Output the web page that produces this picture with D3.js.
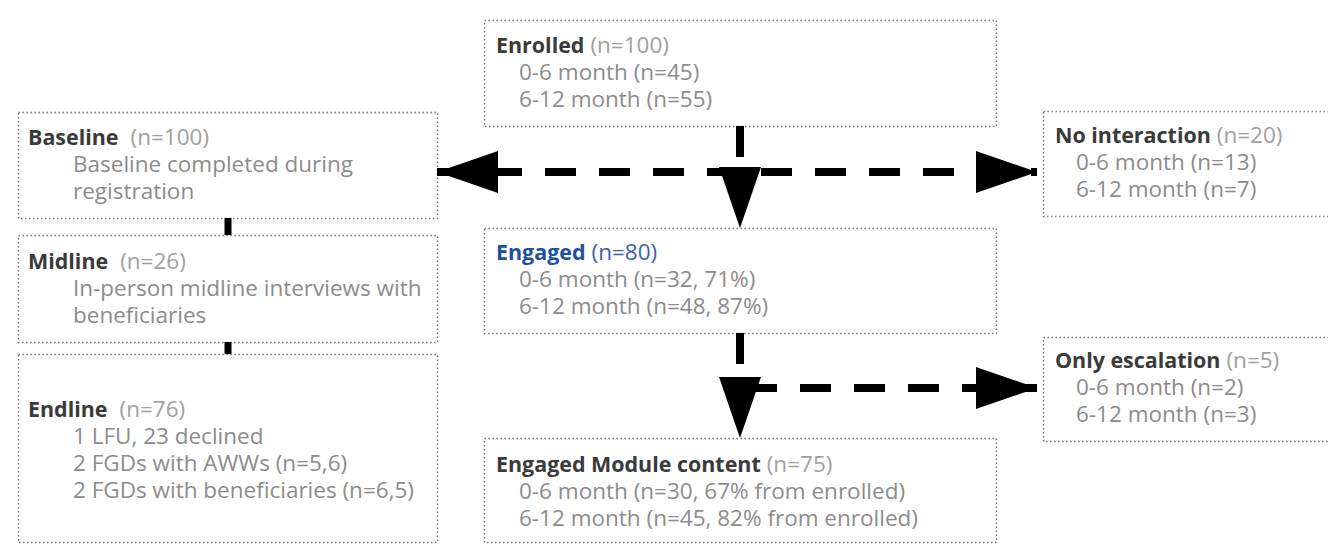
<!DOCTYPE html>
<html><head><meta charset="utf-8">
<script src="https://cdn.jsdelivr.net/npm/d3@7"></script>
<style>body{margin:0;background:#fff;overflow:hidden}</style>
</head><body><svg id="c" width="1328" height="545"></svg>
<script>
// ---- data ----
const nodeIds = ["enrolled","baseline","midline","endline","nointer","engaged","escal","module"];
const nodeTitles = ["Enrolled","Baseline","Midline","Endline","No interaction","Engaged","Only escalation","Engaged Module content"];
const nodeCounts = ["(n=100)","(n=100)","(n=26)","(n=76)","(n=20)","(n=80)","(n=5)","(n=75)"];
const nodeLines = [
  ["0-6 month (n=45)","6-12 month (n=55)"],
  ["Baseline completed during","registration"],
  ["In-person midline interviews with","beneficiaries"],
  ["1 LFU, 23 declined","2 FGDs with AWWs (n=5,6)","2 FGDs with beneficiaries (n=6,5)"],
  ["0-6 month (n=13)","6-12 month (n=7)"],
  ["0-6 month (n=32, 71%)","6-12 month (n=48, 87%)"],
  ["0-6 month (n=2)","6-12 month (n=3)"],
  ["0-6 month (n=30, 67% from enrolled)","6-12 month (n=45, 82% from enrolled)"]
];
const arrowLinks = [["enrolled","baseline"],["enrolled","nointer"],["enrolled","engaged"],["engaged","module"],["engaged","escal"]];
const plainLinks = [["baseline","midline"],["midline","endline"]];

// ---- layout (positions, sizes, styles) ----
const layout = {
  enrolled:{x:484,y:20,w:512,h:106,tx:496,ty:53,sx:519,gap:1},
  baseline:{x:18,y:112,w:419,h:106,tx:28,ty:145,sx:73,gap:2},
  midline:{x:18,y:235,w:419,h:107,tx:28,ty:269,sx:73,gap:2},
  endline:{x:18,y:354,w:419,h:188,tx:28,ty:417,sx:73,gap:2},
  nointer:{x:1043,y:111,w:300,h:105,tx:1055,ty:143,sx:1076,gap:1},
  engaged:{x:484,y:228,w:512,h:105,tx:496,ty:260,sx:519,gap:1,blue:true},
  escal:{x:1043,y:337,w:300,h:104,tx:1055,ty:368,sx:1076,gap:1},
  module:{x:484,y:438,w:512,h:104,tx:496,ty:472,sx:519,gap:1}
};
const lineH = 27;
const FONT = "'Open Sans', 'Noto Sans', sans-serif";

const svg = d3.select("#c");

function measure(str, size, weight){
  const t = svg.append("text").attr("font-family",FONT).attr("font-size",size).attr("font-weight",weight).text(str);
  const w = t.node().getComputedTextLength(); t.remove(); return w;
}
const subSize = 20 * 399 / measure("6-12 month (n=45, 82% from enrolled)",20,400);
const titleSize = 20 * 265 / measure("Engaged Module content",20,700);

const nodes = nodeIds.map((id,i)=>({id, title:nodeTitles[i], count:nodeCounts[i], lines:nodeLines[i], ...layout[id]}));
const byId = Object.fromEntries(nodes.map(n=>[n.id,n]));

// boxes
svg.append("g").selectAll("rect").data(nodes).join("rect")
  .attr("x",d=>d.x+0.5).attr("y",d=>d.y+0.5).attr("width",d=>d.w).attr("height",d=>d.h)
  .attr("fill","none").attr("stroke","#6f6f6f").attr("stroke-width",1.4)
  .attr("stroke-dasharray","1.4,2.6");

// texts (one text element per box)
const tg = svg.append("g").attr("font-family",FONT);
nodes.forEach(n=>{
  const t = tg.append("text").attr("x",n.tx).attr("y",n.ty);
  t.append("tspan").attr("font-weight",700).attr("font-size",titleSize)
    .attr("fill", n.blue ? "#1d4fa3" : "#3a3a3a").text(n.title);
  t.append("tspan").attr("dx", n.gap*6).attr("font-size",subSize)
    .attr("fill", n.blue ? "#3d63ad" : "#a0a0a0").text(n.count);
  n.lines.forEach((s,k)=>{
    t.append("tspan").attr("x",n.sx).attr("y",n.ty+lineH*(k+1))
      .attr("font-size",subSize).attr("fill","#8c8c8c").text(s);
  });
});

// arrows
const ag = svg.append("g");
const HEAD = 61, HALF = 21, SW = 8, DASH = "31,23";
function arrowGeom(a,b){
  const A = byId[a], B = byId[b];
  const acx = A.x + A.w/2;
  if (B.y >= A.y + A.h - 1 && Math.abs((B.x+B.w/2)-acx) < 50){
    return {x1:740, y1:A.y+A.h, x2:740, y2:B.y};
  }
  const yy = (a==="enrolled") ? 172 : 388;
  if (B.x + B.w <= A.x + 1) return {x1:1037, y1:yy, x2:B.x+B.w, y2:yy, full:true};
  return {x1:(a==="enrolled")?437:746, y1:yy, x2:B.x-6, y2:yy};
}
const geoms = arrowLinks.map(l=>arrowGeom(l[0],l[1]));
ag.selectAll("line.dl").data(geoms.filter(g=>!g.full)).join("line")
  .attr("x1",d=>d.x1).attr("y1",d=>d.y1).attr("x2",d=>d.x2).attr("y2",d=>d.y2)
  .attr("stroke","#000").attr("stroke-width",SW).attr("stroke-dasharray",DASH);
ag.selectAll("path.h").data(geoms).join("path")
  .attr("fill","#000")
  .attr("d",d=>{
    let tx=d.x2,ty=d.y2,dx,dy;
    if (d.full){ dx=-1; dy=0; }
    else { const L=Math.hypot(d.x2-d.x1,d.y2-d.y1); dx=(d.x2-d.x1)/L; dy=(d.y2-d.y1)/L; }
    const bx = tx - dx*HEAD, by = ty - dy*HEAD;
    const px = -dy, py = dx;
    return `M${tx},${ty}L${bx+px*HALF},${by+py*HALF}L${bx-px*HALF},${by-py*HALF}Z`;
  });

// plain connectors
svg.append("g").selectAll("line").data(plainLinks).join("line")
  .attr("x1",228).attr("x2",228)
  .attr("y1",d=>byId[d[0]].y+byId[d[0]].h).attr("y2",d=>byId[d[1]].y)
  .attr("stroke","#000").attr("stroke-width",7);
</script></body></html>
